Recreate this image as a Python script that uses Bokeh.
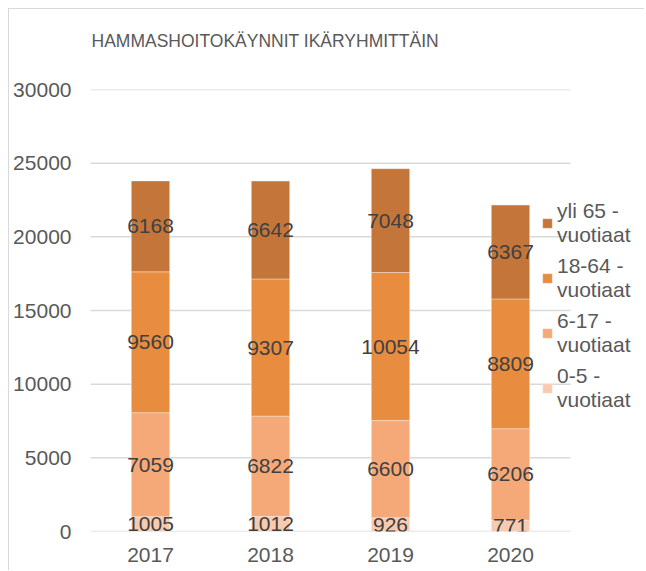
from bokeh.plotting import figure
from bokeh.models import ColumnDataSource, Range1d, Legend, LegendItem, FixedTicker, Title
from bokeh.core.properties import value
from bokeh.embed import file_html
from bokeh.resources import INLINE

years = ["2017", "2018", "2019", "2020"]
age_0_5 = [1005, 1012, 926, 771]
age_6_17 = [7059, 6822, 6600, 6206]
age_18_64 = [9560, 9307, 10054, 8809]
age_65 = [6168, 6642, 7048, 6367]

series_keys = ["a0_5", "a6_17", "a18_64", "a65"]
series_values = [age_0_5, age_6_17, age_18_64, age_65]
series_labels = ["0-5 -\nvuotiaat", "6-17 -\nvuotiaat", "18-64 -\nvuotiaat", "yli 65 -\nvuotiaat"]
colors = ["#F8CBB0", "#F5A878", "#E88C3F", "#C4763A"]
y_ticks = [0, 5000, 10000, 15000, 20000, 25000, 30000]
title_text = "HAMMASHOITOKÄYNNIT IKÄRYHMITTÄIN"

FONT = "Liberation Sans"
FS = "21px"

xpos = [i + 0.5 for i in range(len(years))]
data = {"x": xpos, "year": years}
base = [0] * len(years)
for key, vals in zip(series_keys, series_values):
    data[key] = vals
    data[key + "_mid"] = [b + v / 2 for b, v in zip(base, vals)]
    data[key + "_lab"] = [str(v) for v in vals]
    base = [b + v for b, v in zip(base, vals)]
source = ColumnDataSource(data)

W, H = 636, 562
ML, MR, MT, MB = 81, 5, 80, 40
frame_w = W - ML - MR
x_end = len(years) * frame_w / 480.0

p = figure(x_range=Range1d(0, x_end), y_range=Range1d(0, 30000), width=W, height=H,
           output_backend="svg", toolbar_location=None, title=None,
           min_border_left=ML, min_border_right=MR, min_border_top=MT, min_border_bottom=MB)
p.styles = {"margin-left": "8px", "margin-top": "8px",
            "border-left": "1px solid #D9D9D9", "border-top": "1px solid #D9D9D9"}

# spacer between frame and title, then the title itself
p.add_layout(Title(text=" ", standoff=26, text_font_size="10px", text_color="#FFFFFF"), "above")
p.add_layout(Title(text=title_text, align="left", offset=1, standoff=0,
                   text_font=FONT, text_font_size="17.5px",
                   text_color="#595959", text_font_style="normal"), "above")

# horizontal gridlines, limited to the category area
p.segment(x0=[0] * len(y_ticks), x1=[len(years)] * len(y_ticks), y0=y_ticks, y1=y_ticks,
          line_color="#D9D9D9", line_width=1.5)

renderers = p.vbar_stack(series_keys, x="x", width=0.32, color=colors, source=source,
                         line_color="white", line_alpha=0.35, line_width=1)

for key in series_keys:
    p.text(x="x", y=key + "_mid", text=key + "_lab", source=source,
           text_align="center", text_baseline="middle",
           text_font=value(FONT), text_font_size=FS, text_color="#404040")

items = [LegendItem(label=series_labels[i], renderers=[renderers[i]]) for i in [3, 2, 1, 0]]
legend = Legend(items=items, location=(451, 119), orientation="vertical",
                glyph_width=12, glyph_height=12, label_standoff=4, padding=0, margin=0,
                spacing=7, border_line_color=None, background_fill_alpha=0,
                label_text_font=FONT, label_text_font_size=FS, label_text_color="#595959",
                label_text_line_height=1.18)
p.add_layout(legend)

p.yaxis.ticker = FixedTicker(ticks=y_ticks)
p.xaxis.ticker = FixedTicker(ticks=xpos)
p.xaxis.major_label_overrides = {x: y for x, y in zip(xpos, years)}
for ax in (p.xaxis, p.yaxis):
    ax.axis_line_color = None
    ax.major_tick_line_color = None
    ax.minor_tick_line_color = None
    ax.major_tick_out = 0
    ax.minor_tick_out = 0
    ax.major_label_text_font = FONT
    ax.major_label_text_font_size = FS
    ax.major_label_text_color = "#595959"
p.yaxis.major_label_standoff = 19
p.xaxis.major_label_standoff = 16

p.xgrid.grid_line_color = None
p.ygrid.grid_line_color = None
p.outline_line_color = None

open("out.html", "w").write(file_html(p, INLINE))
